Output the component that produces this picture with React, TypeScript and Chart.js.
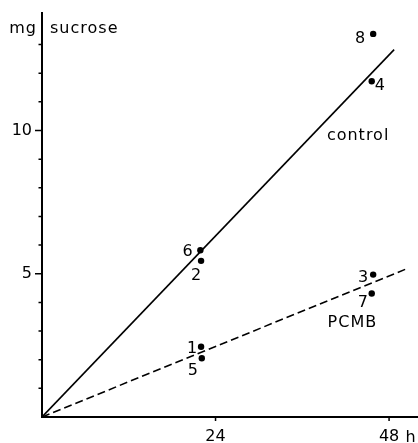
import { useEffect, useRef } from 'react';
import { Chart, registerables } from 'chart.js';

Chart.register(...registerables);

// ---- data ----
const sampleLabels = ['1', '2', '3', '4', '5', '6', '7', '8'];
const sampleHours = [22.0, 22.0, 45.8, 45.6, 22.1, 21.9, 45.6, 45.8];
const sampleSucrose = [2.45, 5.45, 4.97, 11.72, 2.05, 5.82, 4.31, 13.37];

const controlLineHours = [0, 48.7];
const controlLineSucrose = [0, 12.82];
const pcmbLineHours = [0, 50.3];
const pcmbLineSucrose = [0, 5.16];

const xTickValues = [24, 48];
const xUnit = 'h';
const yMajorTicks = [5, 10];
const yMinorTicks = [1, 2, 3, 4, 6, 7, 8, 9, 11, 12, 13];
const yAxisUnit = 'mg';
const yAxisTitle = 'sucrose';
const seriesNames = ['control', 'PCMB'];

// ---- styles (offsets of number labels from their points, in px) ----
const labelOffsets: [number, number][] = [
  [-9, 0], [-5, 13.6], [-10, 1.5], [8, 3], [-9, 10.7], [-12.7, 0], [-9, 7.5], [-13, 3],
];
const FONT = '16px "DejaVu Sans"';

const annotationPlugin = {
  id: 'annotations',
  afterDraw(chart: any) {
    const ctx = chart.ctx as CanvasRenderingContext2D;
    const xs = chart.scales.x;
    const ys = chart.scales.y;
    const ax = xs.getPixelForValue(0);
    const ay = ys.getPixelForValue(0);
    ctx.save();
    ctx.strokeStyle = '#000';
    ctx.fillStyle = '#000';
    ctx.lineWidth = 1.5;
    // y ticks
    ctx.beginPath();
    yMajorTicks.forEach((v) => {
      const py = ys.getPixelForValue(v);
      ctx.moveTo(ax - 7, py);
      ctx.lineTo(ax, py);
    });
    yMinorTicks.forEach((v) => {
      const py = ys.getPixelForValue(v);
      ctx.moveTo(ax - 3.5, py);
      ctx.lineTo(ax, py);
    });
    // x ticks
    xTickValues.forEach((v) => {
      const px = xs.getPixelForValue(v);
      ctx.moveTo(px, ay);
      ctx.lineTo(px, ay + 4);
    });
    ctx.stroke();

    ctx.font = FONT;
    (ctx as any).letterSpacing = '1px';
    ctx.textBaseline = 'alphabetic';
    // unit 'h' after 48
    ctx.textAlign = 'left';
    ctx.fillText(xUnit, xs.getPixelForValue(48) + 16.5, xs.top + 24.5);
    // axis titles
    ctx.textAlign = 'right';
    ctx.fillText(yAxisUnit, ax - 5, 32.5);
    ctx.textAlign = 'left';
    ctx.fillText(yAxisTitle, ax + 8, 32.5);
    // series names
    ctx.fillText(seriesNames[0], xs.getPixelForValue(39.4), ys.getPixelForValue(9.67));
    ctx.fillText(seriesNames[1], xs.getPixelForValue(39.5), ys.getPixelForValue(3.14));
    // point numbers
    ctx.textAlign = 'center';
    (ctx as any).letterSpacing = '0px';
    const meta = chart.getDatasetMeta(2);
    meta.data.forEach((el: any, i: number) => {
      const [dx, dy] = labelOffsets[i];
      ctx.fillText(sampleLabels[i], el.x + dx, el.y + dy + 5.8);
    });
    ctx.restore();
  },
};

export default function App() {
  const ref = useRef<HTMLCanvasElement>(null);
  useEffect(() => {
    if (!ref.current) return;
    const chart = new Chart(ref.current, {
      type: 'scatter',
      data: {
        datasets: [
          {
            label: seriesNames[0],
            data: controlLineHours.map((x, i) => ({ x, y: controlLineSucrose[i] })),
            showLine: true,
            borderColor: '#000',
            borderWidth: 1.6,
            pointRadius: 0,
          },
          {
            label: seriesNames[1],
            data: pcmbLineHours.map((x, i) => ({ x, y: pcmbLineSucrose[i] })),
            showLine: true,
            borderColor: '#000',
            borderWidth: 1.6,
            borderDash: [8, 4],
            pointRadius: 0,
          },
          {
            label: 'samples',
            data: sampleHours.map((x, i) => ({ x, y: sampleSucrose[i] })),
            backgroundColor: '#000',
            borderWidth: 0,
            pointRadius: 3.2,
          },
        ],
      },
      options: {
        responsive: false,
        animation: false,
        layout: { autoPadding: false, padding: { top: 13, right: 0, left: 0, bottom: 0 } },
        plugins: { legend: { display: false }, tooltip: { enabled: false } },
        scales: {
          x: {
            type: 'linear',
            min: 0,
            max: 52,
            grid: { display: false, drawTicks: false },
            border: { display: true, color: '#000', width: 2 },
            afterBuildTicks: (s: any) => {
              s.ticks = xTickValues.map((v) => ({ value: v }));
            },
            afterFit: (s: any) => {
              s.height = 26;
              s.paddingLeft = 0;
              s.paddingRight = 0;
            },
            ticks: {
              color: '#000',
              font: { family: 'DejaVu Sans', size: 16 },
              padding: 10,
              maxRotation: 0,
              autoSkip: false,
              callback: (v: any) => String(v),
            },
          },
          y: {
            type: 'linear',
            min: 0,
            max: 14.1,
            grid: { display: false, drawTicks: false },
            border: { display: true, color: '#000', width: 2 },
            afterBuildTicks: (s: any) => {
              s.ticks = yMajorTicks.map((v) => ({ value: v }));
            },
            afterFit: (s: any) => {
              s.width = 42;
              s.paddingTop = 0;
              s.paddingBottom = 0;
            },
            ticks: {
              color: '#000',
              font: { family: 'DejaVu Sans', size: 16 },
              padding: 10,
              autoSkip: false,
              callback: (v: any) => String(v),
            },
          },
        },
      },
      plugins: [annotationPlugin],
    });
    return () => chart.destroy();
  }, []);
  return (
    <div style={{ position: 'fixed', left: 0, top: 0, width: 418, height: 443, background: '#fff' }}>
      <canvas ref={ref} width={418} height={443} />
    </div>
  );
}
